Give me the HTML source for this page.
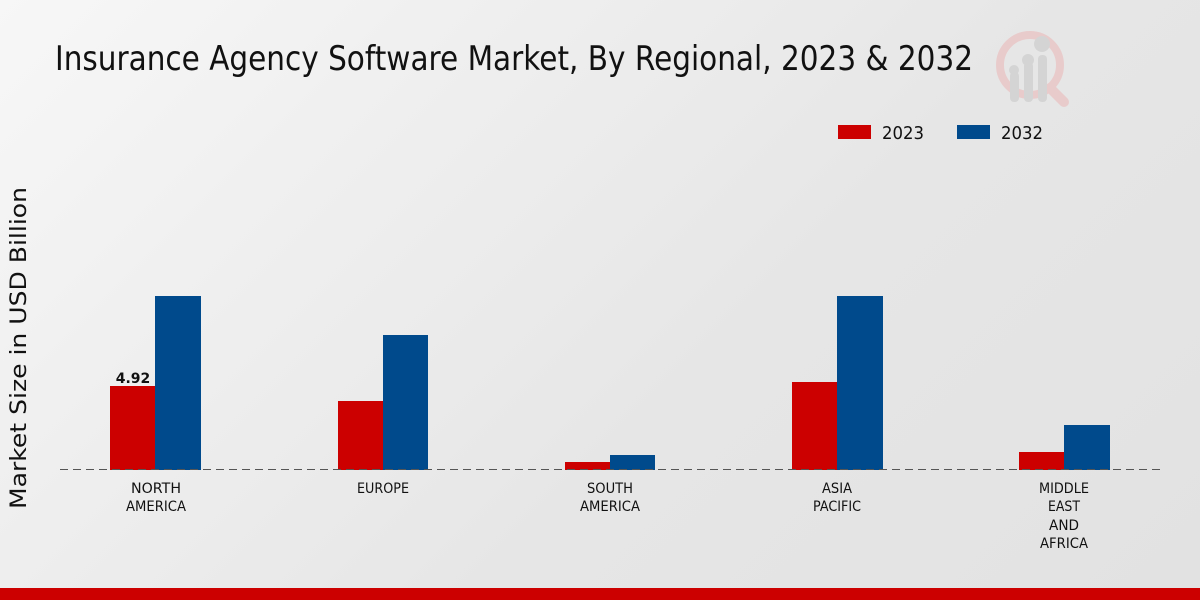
<!DOCTYPE html>
<html><head><style>
html,body{margin:0;padding:0;width:1200px;height:600px;overflow:hidden}
body{background:linear-gradient(135deg,#f7f7f7 0%,#e6e6e6 60%,#e2e2e2 100%)}
text{font-family:"DejaVu Sans","Liberation Sans",sans-serif}
</style></head><body>
<svg width="1200" height="600" viewBox="0 0 1200 600" xmlns="http://www.w3.org/2000/svg">
<text x="55" y="70" font-size="34" textLength="918" lengthAdjust="spacingAndGlyphs" fill="#111">Insurance Agency Software Market, By Regional, 2023 &amp; 2032</text>
<g opacity="0.9">
<circle cx="1030" cy="65" r="30" fill="none" stroke="#e9c9c9" stroke-width="8"/>
<line x1="1050" y1="88" x2="1064" y2="102" stroke="#e9c9c9" stroke-width="10" stroke-linecap="round"/>
<rect x="1010" y="72" width="9" height="30" rx="4" fill="#d3d3d3"/>
<rect x="1024" y="62" width="9" height="40" rx="4" fill="#d3d3d3"/>
<rect x="1038" y="55" width="9" height="47" rx="4" fill="#d3d3d3"/>
<circle cx="1014" cy="70" r="5" fill="#d3d3d3"/>
<circle cx="1028" cy="60" r="6" fill="#d3d3d3"/>
<circle cx="1042" cy="44" r="8" fill="#d3d3d3"/>
</g>
<rect x="838" y="125" width="33" height="14" fill="#cc0000"/>
<text x="882" y="139" font-size="18" textLength="42" lengthAdjust="spacingAndGlyphs" fill="#111">2023</text>
<rect x="957" y="125" width="33" height="14" fill="#004a8c"/>
<text x="1001" y="139" font-size="18" textLength="42" lengthAdjust="spacingAndGlyphs" fill="#111">2032</text>
<text transform="translate(26,348) rotate(-90)" font-size="22" text-anchor="middle" textLength="322" lengthAdjust="spacingAndGlyphs" fill="#111">Market Size in USD Billion</text>
<g>
<rect x="110" y="386" width="46" height="84" fill="#cc0000"/>
<rect x="155" y="296" width="46" height="174" fill="#004a8c"/>
<rect x="338" y="401" width="45" height="69" fill="#cc0000"/>
<rect x="383" y="335" width="45" height="135" fill="#004a8c"/>
<rect x="565" y="462" width="45" height="8" fill="#cc0000"/>
<rect x="610" y="455" width="45" height="15" fill="#004a8c"/>
<rect x="792" y="382" width="45" height="88" fill="#cc0000"/>
<rect x="837" y="296" width="46" height="174" fill="#004a8c"/>
<rect x="1019" y="452" width="45" height="18" fill="#cc0000"/>
<rect x="1064" y="425" width="46" height="45" fill="#004a8c"/>
</g>
<line x1="60" y1="469.5" x2="1160" y2="469.5" stroke="#555" stroke-width="1" stroke-dasharray="8,5"/>
<text x="133" y="383" font-size="14" font-weight="bold" text-anchor="middle" fill="#111">4.92</text>
<g font-size="14" text-anchor="middle" fill="#111">
<text x="156" y="493" textLength="50" lengthAdjust="spacingAndGlyphs">NORTH</text>
<text x="156" y="511" textLength="60" lengthAdjust="spacingAndGlyphs">AMERICA</text>
<text x="383" y="493" textLength="52" lengthAdjust="spacingAndGlyphs">EUROPE</text>
<text x="610" y="493" textLength="46" lengthAdjust="spacingAndGlyphs">SOUTH</text>
<text x="610" y="511" textLength="60" lengthAdjust="spacingAndGlyphs">AMERICA</text>
<text x="837" y="493" textLength="30" lengthAdjust="spacingAndGlyphs">ASIA</text>
<text x="837" y="511" textLength="48" lengthAdjust="spacingAndGlyphs">PACIFIC</text>
<text x="1064" y="493" textLength="50" lengthAdjust="spacingAndGlyphs">MIDDLE</text>
<text x="1064" y="511" textLength="32" lengthAdjust="spacingAndGlyphs">EAST</text>
<text x="1064" y="530" textLength="30" lengthAdjust="spacingAndGlyphs">AND</text>
<text x="1064" y="548" textLength="48" lengthAdjust="spacingAndGlyphs">AFRICA</text>
</g>
<rect x="0" y="588" width="1200" height="12" fill="#cc0000"/>
</svg>
</body></html>
